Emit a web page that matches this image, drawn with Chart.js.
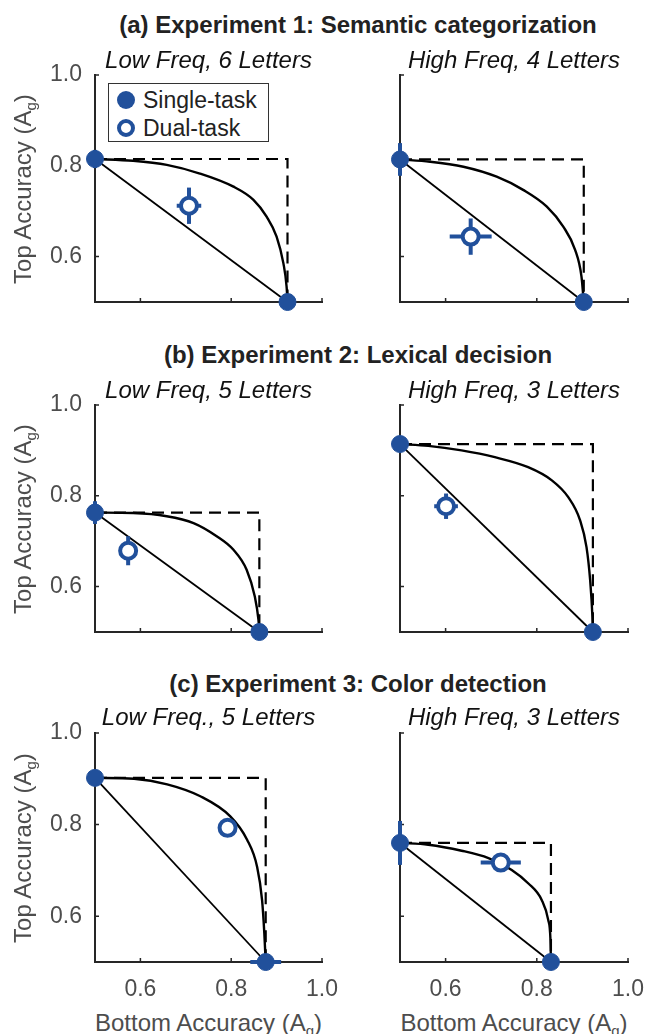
<!DOCTYPE html>
<html>
<head>
<meta charset="utf-8">
<script src="https://cdn.jsdelivr.net/npm/chart.js@4.4.1/dist/chart.umd.min.js"></script>
<style>
  html, body { margin: 0; padding: 0; background: #fff; }
  #fig { position: relative; width: 648px; height: 1034px; overflow: hidden;
         font-family: "Liberation Sans", Arial, Helvetica, sans-serif; }
  #fig canvas { position: absolute; }
  .txt { position: absolute; white-space: nowrap; line-height: 1; }
  .row-title { font-size: 24px; font-weight: bold; color: #222; transform: translateX(-50%); }
  .sub-title { font-size: 24px; font-style: italic; color: #111; transform: translateX(-50%); }
  .ylab { font-size: 24px; color: #4d4d4d; transform: translate(-50%, -50%) rotate(-90deg); }
  .xlab { font-size: 24px; color: #4d4d4d; transform: translateX(-50%); }
  .txt sub { font-size: 15px; vertical-align: -5px; line-height: 0; }
  #legend { position: absolute; left: 108px; top: 83px; width: 159px; height: 57px;
            border: 1px solid #333; background: #fff; font-size: 23px; color: #222; }
  #legend .item { position: absolute; left: 0; width: 159px; height: 28px; line-height: 28px; white-space: nowrap; }
  #legend .mk { position: absolute; left: 8px; top: 5px; width: 18px; height: 18px;
                border-radius: 50%; box-sizing: border-box; }
  #legend .lbl { position: absolute; left: 34px; top: 0; }
</style>
</head>
<body>
<div id="fig">
  <div id="legend">
    <div class="item" style="top:2px"><span class="mk" style="background:#21509b"></span><span class="lbl">Single-task</span></div>
    <div class="item" style="top:30px"><span class="mk" style="border:4px solid #21509b;background:#fff"></span><span class="lbl">Dual-task</span></div>
  </div>
</div>
<script>
  // ---- data, one entry per panel: aL, aR, bL, bR, cL, cR ----
  const rowTitles = [
    "(a) Experiment 1: Semantic categorization",
    "(b) Experiment 2: Lexical decision",
    "(c) Experiment 3: Color detection"
  ];
  const panelTitles = [
    "Low Freq, 6 Letters", "High Freq, 4 Letters",
    "Low Freq, 5 Letters", "High Freq, 3 Letters",
    "Low Freq., 5 Letters", "High Freq, 3 Letters"
  ];
  const CHANCE = 0.5;
  const xTicks = [0.6, 0.8, 1.0];
  const yTicks = [0.6, 0.8, 1.0];

  // single-task accuracy: top task (plotted at x = chance), bottom task (plotted at y = chance)
  const singleTop = [0.815, 0.814, 0.763, 0.914, 0.902, 0.760];
  const singleTopErr = [0.020, 0.036, 0.025, 0.010, 0.008, 0.048];
  const singleBottom = [0.924, 0.903, 0.862, 0.923, 0.876, 0.831];
  const singleBottomErr = [0.008, 0.008, 0.008, 0.008, 0.034, 0.008];

  // dual-task accuracy
  const dualX = [0.707, 0.655, 0.573, 0.601, 0.792, 0.721];
  const dualXErr = [0.027, 0.046, 0.008, 0.026, 0.008, 0.044];
  const dualY = [0.712, 0.644, 0.679, 0.777, 0.793, 0.717];
  const dualYErr = [0.040, 0.040, 0.032, 0.028, 0.008, 0.008];

  // curved operating characteristic
  const curveX = [
    [0.5, 0.584, 0.658, 0.731, 0.805, 0.849, 0.878, 0.900, 0.915, 0.922, 0.924],
    [0.5, 0.566, 0.639, 0.712, 0.770, 0.822, 0.858, 0.884, 0.898, 0.902, 0.903],
    [0.5, 0.584, 0.658, 0.717, 0.768, 0.805, 0.834, 0.852, 0.860, 0.862],
    [0.5, 0.562, 0.635, 0.708, 0.781, 0.833, 0.869, 0.895, 0.909, 0.917, 0.922, 0.923],
    [0.5, 0.586, 0.659, 0.732, 0.798, 0.835, 0.857, 0.868, 0.873, 0.875, 0.876],
    [0.5, 0.562, 0.635, 0.694, 0.745, 0.781, 0.811, 0.825, 0.830, 0.831]
  ];
  const curveY = [
    [0.815, 0.811, 0.802, 0.783, 0.754, 0.725, 0.688, 0.644, 0.585, 0.534, 0.5],
    [0.814, 0.809, 0.798, 0.776, 0.747, 0.710, 0.666, 0.615, 0.556, 0.512, 0.5],
    [0.763, 0.762, 0.755, 0.740, 0.711, 0.681, 0.637, 0.578, 0.527, 0.5],
    [0.914, 0.910, 0.900, 0.885, 0.863, 0.834, 0.797, 0.746, 0.687, 0.614, 0.533, 0.5],
    [0.902, 0.900, 0.888, 0.862, 0.818, 0.767, 0.708, 0.635, 0.562, 0.520, 0.5],
    [0.760, 0.756, 0.743, 0.727, 0.701, 0.672, 0.635, 0.592, 0.548, 0.5]
  ];

  // ---- layout ----
  const BLUE = "#21509b";
  const AXIS = "#262626";
  const FONT = '"Liberation Sans", Arial, Helvetica, sans-serif';
  const colLeft = [95, 400], colRight = [322, 628];
  const rowTop = [75, 405, 733], rowBottom = [302, 632, 962];
  const titleTop = [12.7, 342.7, 671.7];
  const subTop = [47.7, 377.7, 704.7];

  const fig = document.getElementById("fig");

  function addText(cls, html, left, top) {
    const d = document.createElement("div");
    d.className = "txt " + cls;
    d.innerHTML = html;
    d.style.left = left + "px";
    d.style.top = top + "px";
    fig.appendChild(d);
  }

  const inwardTicks = {
    id: "inwardTicks",
    beforeDatasetsDraw(chart) {
      const { ctx, chartArea, scales } = chart;
      ctx.save();
      ctx.strokeStyle = AXIS;
      ctx.lineWidth = 1.5;
      ctx.beginPath();
      scales.x.ticks.forEach((t) => {
        const px = scales.x.getPixelForValue(t.value);
        ctx.moveTo(px, chartArea.bottom);
        ctx.lineTo(px, chartArea.bottom - 4);
      });
      scales.y.ticks.forEach((t) => {
        const py = scales.y.getPixelForValue(t.value);
        ctx.moveTo(chartArea.left, py);
        ctx.lineTo(chartArea.left + 4, py);
      });
      ctx.stroke();
      ctx.restore();
    }
  };

  function seg(a, b) {
    return {
      data: [a, b], showLine: true, borderColor: BLUE, borderWidth: 4,
      borderCapStyle: "butt", pointRadius: 0, clip: false
    };
  }

  function buildPanel(i) {
    const r = Math.floor(i / 2), c = i % 2;
    const canvasLeft = c === 0 ? 0 : 340;
    const canvasW = c === 0 ? 340 : 308;
    const padTop = 15;
    const yW = colLeft[c] - canvasLeft;
    const padRight = canvasLeft + canvasW - colRight[c];
    const xH = r === 2 ? 44 : 22;
    const canvasTop = rowTop[r] - padTop;
    const canvasH = padTop + (rowBottom[r] - rowTop[r]) + xH;

    const cv = document.createElement("canvas");
    cv.width = canvasW; cv.height = canvasH;
    cv.style.left = canvasLeft + "px"; cv.style.top = canvasTop + "px";
    cv.style.width = canvasW + "px"; cv.style.height = canvasH + "px";
    fig.insertBefore(cv, document.getElementById("legend"));

    const top = singleTop[i], bot = singleBottom[i];
    const datasets = [
      { // dual-task marker
        data: [{ x: dualX[i], y: dualY[i] }],
        pointRadius: 8, borderWidth: 4, borderColor: BLUE, backgroundColor: "#fff", clip: false
      },
      { // single-task markers
        data: [{ x: CHANCE, y: top }, { x: bot, y: CHANCE }],
        pointRadius: 8.5, borderWidth: 1, borderColor: BLUE, backgroundColor: BLUE, clip: false
      },
      seg({ x: dualX[i] - dualXErr[i], y: dualY[i] }, { x: dualX[i] + dualXErr[i], y: dualY[i] }),
      seg({ x: dualX[i], y: dualY[i] - dualYErr[i] }, { x: dualX[i], y: dualY[i] + dualYErr[i] }),
      seg({ x: CHANCE, y: top - singleTopErr[i] }, { x: CHANCE, y: top + singleTopErr[i] }),
      seg({ x: bot - singleBottomErr[i], y: CHANCE }, { x: bot + singleBottomErr[i], y: CHANCE }),
      { // curved operating characteristic
        data: curveX[i].map((x, k) => ({ x, y: curveY[i][k] })),
        showLine: true, borderColor: "#000", borderWidth: 2.4, pointRadius: 0,
        cubicInterpolationMode: "monotone", clip: false
      },
      { // straight line between single-task points
        data: [{ x: CHANCE, y: top }, { x: bot, y: CHANCE }],
        showLine: true, borderColor: "#000", borderWidth: 1.8, pointRadius: 0, clip: false
      },
      { // independence box
        data: [{ x: CHANCE, y: top }, { x: bot, y: top }, { x: bot, y: CHANCE }],
        showLine: true, borderColor: "#000", borderWidth: 2.2, borderDash: [12, 7],
        pointRadius: 0, clip: false
      }
    ];

    const tickFont = { family: FONT, size: 23 };
    new Chart(cv, {
      type: "scatter",
      data: { datasets },
      plugins: [inwardTicks],
      options: {
        responsive: false,
        animation: false,
        events: [],
        layout: { padding: { top: padTop, right: padRight, left: 0, bottom: 0 } },
        plugins: { legend: { display: false }, tooltip: { enabled: false } },
        scales: {
          x: {
            type: "linear", min: 0.5, max: 1.0,
            grid: { display: false, drawTicks: false },
            border: { display: true, color: AXIS, width: 2 },
            ticks: { display: r === 2, color: "#4d4d4d", font: tickFont, padding: 14,
                     callback: (v) => Number(v).toFixed(1) },
            afterBuildTicks: (s) => { s.ticks = xTicks.map((v) => ({ value: v })); },
            afterFit: (s) => {
              s.height = xH;
              s.paddingLeft = s.paddingRight = s.paddingTop = s.paddingBottom = 0;
            }
          },
          y: {
            type: "linear", min: 0.5, max: 1.0,
            grid: { display: false, drawTicks: false },
            border: { display: true, color: AXIS, width: 2 },
            ticks: { display: c === 0, color: "#4d4d4d", font: tickFont, padding: 13,
                     callback: (v) => Number(v).toFixed(1) },
            afterBuildTicks: (s) => { s.ticks = yTicks.map((v) => ({ value: v })); },
            afterFit: (s) => {
              s.width = yW;
              s.paddingLeft = s.paddingRight = s.paddingTop = s.paddingBottom = 0;
            }
          }
        }
      }
    });

    const cx = (colLeft[c] + colRight[c]) / 2;
    addText("sub-title", panelTitles[i], cx, subTop[r]);
    if (c === 0) {
      addText("ylab", "Top Accuracy (A<sub>g</sub>)", 22.7, (rowTop[r] + rowBottom[r]) / 2);
    }
    if (r === 2) {
      addText("xlab", "Bottom Accuracy (A<sub>g</sub>)", cx, 1010.7);
    }
  }

  rowTitles.forEach((t, r) => addText("row-title", t, 358, titleTop[r]));
  for (let i = 0; i < 6; i++) buildPanel(i);
  // keep the legend on top of the first panel
  fig.appendChild(document.getElementById("legend"));
</script>
</body>
</html>
